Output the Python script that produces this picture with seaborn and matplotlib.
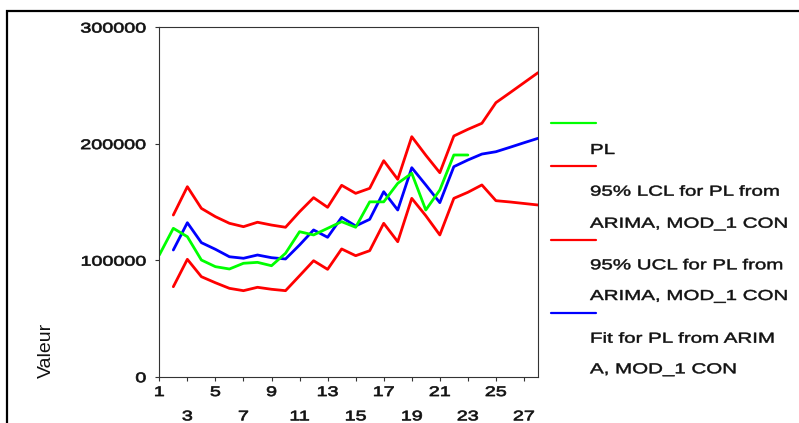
import numpy as np
import pandas as pd
import seaborn as sns
import matplotlib
matplotlib.use("Agg")
import matplotlib.pyplot as plt
from matplotlib.patheffects import AbstractPathEffect
from matplotlib.transforms import Affine2D
from matplotlib.lines import Line2D
from matplotlib.patches import Rectangle

# ---- data -------------------------------------------------------------
periods_obs = list(range(1, 24))
pl = [104400, 127300, 120100, 100100, 94400, 92400, 97300, 98100, 95200,
      105900, 124400, 121600, 127300, 133000, 128200, 150000, 150000,
      165900, 174500, 143000, 160200, 190200, 190200]

periods_fc = list(range(2, 29))
fit = [108700, 132100, 115000, 109300, 102900, 101600, 104400, 102100,
       101000, 113000, 125900, 119600, 136700, 129300, 135000, 158700,
       143000, 179300, 164500, 149300, 180200, 185900, 191000, 193000,
       196800, 200700, 204500]
ucl = [138700, 163000, 144400, 137300, 131600, 128700, 132500, 130100,
       128200, 141500, 153600, 145300, 164200, 157300, 161600, 185300,
       169300, 205900, 190000, 175000, 206500, 212200, 217400, 235100,
       243600, 252200, 260800]
lcl = [77200, 100700, 85800, 80600, 75800, 73800, 76700, 75000, 73800,
       86600, 99500, 92100, 109600, 103800, 108100, 131600, 115800,
       153000, 138100, 121600, 153000, 158200, 164500, 151000, 149900,
       148600, 147300]

y_ticks = [0, 100000, 200000, 300000]
x_ticks_row1 = [1, 5, 9, 13, 17, 21, 25]
x_ticks_row2 = [3, 7, 11, 15, 19, 23, 27]

legend_labels = [
    ["PL"],
    ["95% LCL for PL from", "ARIMA, MOD_1 CON"],
    ["95% UCL for PL from", "ARIMA, MOD_1 CON"],
    ["Fit for PL from ARIM", "A, MOD_1 CON"],
]
GREEN, RED, BLUE = "#00ff00", "#ff0000", "#0000ff"
legend_colors = [GREEN, RED, RED, BLUE]


class Widened(AbstractPathEffect):
    """Draw text glyphs stretched horizontally around an anchor."""

    def __init__(self, sx, anchor="left", stroke=0.0):
        super().__init__()
        self.sx = sx
        self.anchor = anchor
        self.stroke = stroke

    def draw_path(self, renderer, gc, tpath, affine, rgbFace=None):
        if len(tpath.vertices) == 0:
            return
        ext = tpath.get_extents()
        if self.anchor == "right":
            x0 = ext.x1
        elif self.anchor == "center":
            x0 = 0.5 * (ext.x0 + ext.x1)
        else:
            x0 = 0.0
        tr = Affine2D().translate(-x0, 0).scale(self.sx, 1).translate(x0, 0) + affine
        gc0 = renderer.new_gc()
        gc0.copy_properties(gc)
        if self.stroke and rgbFace is not None:
            gc0.set_linewidth(self.stroke)
            gc0.set_foreground(rgbFace)
            gc0.set_joinstyle("round")
        renderer.draw_path(gc0, tpath, tr, rgbFace)
        gc0.restore()


W, H = 799, 423
sns.set_style("white")
plt.rcParams["font.family"] = ["Liberation Sans", "DejaVu Sans"]

fig = plt.figure(figsize=(W / 100, H / 100), dpi=100)
fig.patch.set_facecolor("white")

# plot area in pixels: left 159, right 538, top 27, bottom 377
ax = fig.add_axes([159.3 / W, 1 - 376.7 / H, (538 - 159.3) / W, (376.7 - 27) / H])

obs = pd.DataFrame({"t": periods_obs, "PL": pl})
fc = pd.DataFrame({"t": periods_fc, "fit": fit, "ucl": ucl, "lcl": lcl})

lw = 2.0
sns.lineplot(data=fc, x="t", y="lcl", color=RED, lw=lw, ax=ax, legend=False)
sns.lineplot(data=fc, x="t", y="ucl", color=RED, lw=lw, ax=ax, legend=False)
sns.lineplot(data=fc, x="t", y="fit", color=BLUE, lw=lw, ax=ax, legend=False)
sns.lineplot(data=obs, x="t", y="PL", color=GREEN, lw=lw, ax=ax, legend=False)

ax.set_xlim(1, 28)
ax.set_ylim(0, 300000)
ax.set_xlabel("")
ax.set_ylabel("")

for s in ax.spines.values():
    s.set_visible(True)
    s.set_color("#333333")
    s.set_linewidth(0.8)

ax.set_yticks(y_ticks)
ax.set_yticklabels([str(v) for v in y_ticks])
ax.set_xticks(x_ticks_row1)
ax.set_xticklabels([str(v) for v in x_ticks_row1])
ax.set_xticks(x_ticks_row2, minor=True)
ax.set_xticklabels([str(v) for v in x_ticks_row2], minor=True)

tick_font = 10.0
ax.tick_params(axis="y", which="major", direction="out", length=3, width=0.8,
               color="#333333", pad=6.5, labelsize=tick_font, labelcolor="#111111", left=True)
ax.tick_params(axis="x", which="major", direction="out", length=3, width=0.8,
               color="#333333", pad=3.0, labelsize=tick_font, labelcolor="#111111", bottom=True)
ax.tick_params(axis="x", which="minor", direction="out", length=3, width=0.8,
               color="#333333", pad=20.5, labelsize=tick_font, labelcolor="#111111", bottom=True)

SX = 1.42
STROKE = 0.5
for lab in ax.get_yticklabels():
    lab.set_path_effects([Widened(SX, "right", STROKE)])
for lab in ax.get_xticklabels() + ax.get_xticklabels(minor=True):
    lab.set_path_effects([Widened(SX, "center", STROKE)])

# axis title
fig.text(50.5 / W, 1 - 350 / H, "Valeur", rotation=90, rotation_mode="anchor",
         ha="center", va="baseline", fontsize=14, color="#111111")

# legend: line sample above its label block
legend_font = 10.4
handle_y = [123.3, 166, 240, 313.3]
text_baselines = [[154], [195.7, 227.7], [269.3, 300], [342.7, 373.3]]
for col, hy, lines, bases in zip(legend_colors, handle_y, legend_labels, text_baselines):
    fig.add_artist(Line2D([551 / W, 596 / W], [1 - hy / H, 1 - hy / H],
                          color=col, lw=1.6, transform=fig.transFigure))
    for txt, by in zip(lines, bases):
        fig.text(590 / W, 1 - by / H, txt, ha="left", va="baseline",
                 fontsize=legend_font, color="#111111",
                 path_effects=[Widened(SX, "left", 0.35)])

# outer frame
fig.add_artist(Rectangle((7 / W, -0.1), 1.2, 1 - 11 / H + 0.1, transform=fig.transFigure,
                         fill=False, edgecolor="black", lw=1.6))

fig.savefig("out.png", dpi=100)
